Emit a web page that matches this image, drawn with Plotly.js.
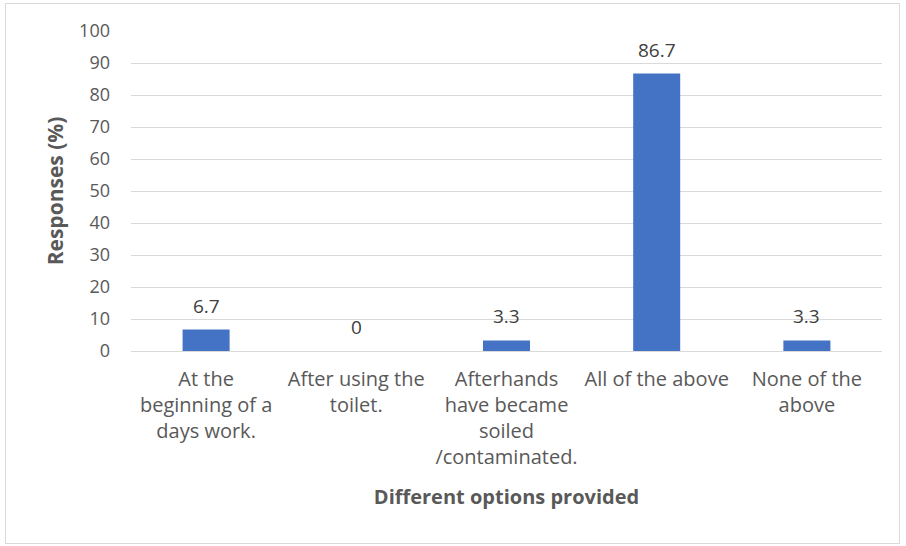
<!DOCTYPE html>
<html>
<head>
<meta charset="utf-8">
<script src="https://cdn.plot.ly/plotly-3.0.1.min.js"></script>
<style>
  body { margin: 0; padding: 0; background: #fff; }
  #wrap { position: relative; width: 906px; height: 546px; }
  #chart { width: 906px; height: 546px; }
  #frame { position: absolute; left: 5px; top: 3px; width: 893px; height: 539px; border: 1px solid #d9d9d9; pointer-events: none; }
</style>
</head>
<body>
<div id="wrap">
  <div id="chart"></div>
  <div id="frame"></div>
</div>
<script>
const categories = [
  "At the<br>beginning of a<br>days work.",
  "After using the<br>toilet.",
  "Afterhands<br>have became<br>soiled<br>/contaminated.",
  "All of the above",
  "None of the<br>above"
];
const responses = [6.7, 0, 3.3, 86.7, 3.3];
const valueLabels = ["6.7", "0", "3.3", "86.7", "3.3"];
const yTicks = [0, 10, 20, 30, 40, 50, 60, 70, 80, 90, 100];

const FONT = "Open Sans, Liberation Sans, sans-serif";

const trace = {
  type: "bar",
  x: categories,
  y: responses,
  marker: { color: "#4472C4" },
  hoverinfo: "skip"
};

const annotations = categories.map((c, i) => ({
  x: c, y: responses[i], xref: "x", yref: "y",
  text: valueLabels[i], showarrow: false,
  yanchor: "bottom", yshift: 9,
  font: { family: FONT, size: 19, color: "#404040" }
}));

const layout = {
  width: 906, height: 546,
  margin: { l: 131, r: 24, t: 31, b: 195 },
  paper_bgcolor: "#ffffff",
  plot_bgcolor: "#ffffff",
  bargap: 0.687,
  showlegend: false,
  font: { family: FONT, color: "#595959" },
  xaxis: {
    type: "category",
    tickfont: { family: FONT, size: 20, color: "#595959" },
    showgrid: false,
    showline: false,
    ticks: "",
    ticklabelstandoff: 14,
    title: { text: "<b>Different options provided</b>", font: { family: FONT, size: 20, color: "#595959" }, standoff: 20 },
    automargin: false
  },
  yaxis: {
    range: [0, 100],
    tickvals: yTicks,
    ticktext: yTicks.map(String),
    tickfont: { family: FONT, size: 18, color: "#595959" },
    showgrid: true,
    gridcolor: "#d9d9d9",
    gridwidth: 1,
    zeroline: true,
    zerolinecolor: "#d9d9d9",
    zerolinewidth: 1,
    showline: false,
    ticks: "",
    ticklabelstandoff: 20,
    title: { text: "<b>Responses (%)</b>", font: { family: FONT, size: 21, color: "#595959" }, standoff: 9 },
    automargin: false
  },
  annotations: annotations
};

Plotly.newPlot("chart", [trace], layout, { staticPlot: true, displayModeBar: false });
</script>
</body>
</html>
